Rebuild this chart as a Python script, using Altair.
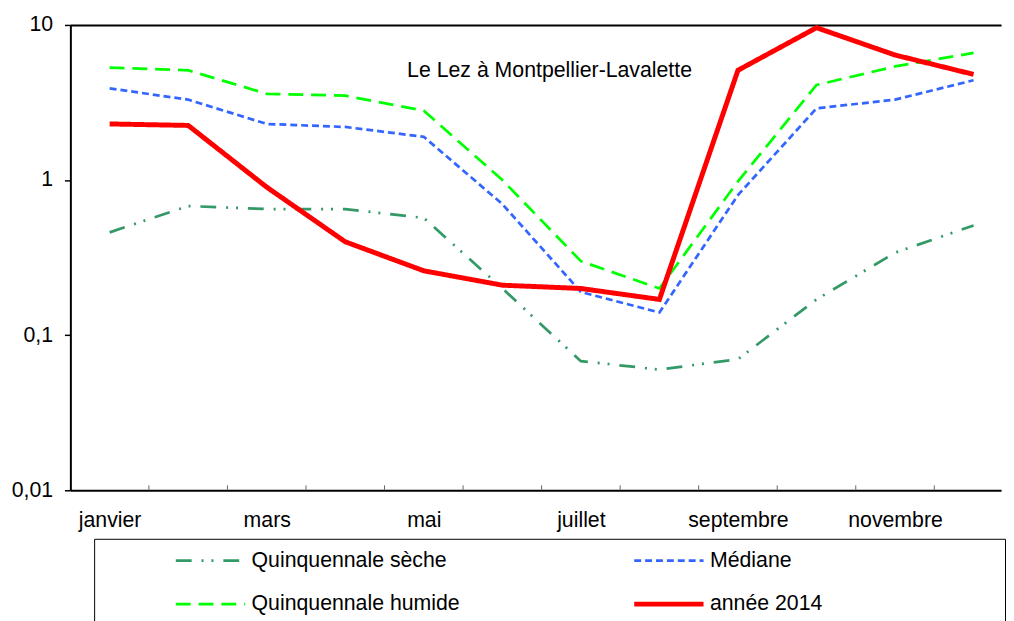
import json
import altair as alt
import pandas as pd

# ---------------- data ----------------
months = ["janvier", "février", "mars", "avril", "mai", "juin",
          "juillet", "août", "septembre", "octobre", "novembre", "décembre"]
labelled_months = ["janvier", "mars", "mai", "juillet", "septembre", "novembre"]
series_names = ["Quinquennale sèche", "Médiane", "Quinquennale humide", "année 2014"]

seche = [0.46, 0.68, 0.65, 0.65, 0.57, 0.20, 0.068, 0.06, 0.07, 0.17, 0.34, 0.51]
mediane = [3.9, 3.3, 2.3, 2.2, 1.9, 0.70, 0.19, 0.14, 0.80, 2.9, 3.3, 4.4]
humide = [5.3, 5.1, 3.6, 3.5, 2.8, 1.0, 0.30, 0.20, 0.98, 4.1, 5.4, 6.6]
annee_2014 = [2.3, 2.25, 0.90, 0.40, 0.26, 0.21, 0.20, 0.17, 5.1, 9.6, 6.4, 4.8]

y_ticks = [0.01, 0.1, 1, 10]
title_text = "Le Lez à Montpellier-Lavalette"

# ---------------- tables ----------------
rows = []
for name, vals in zip(series_names, [seche, mediane, humide, annee_2014]):
    for i, (m, v) in enumerate(zip(months, vals)):
        rows.append({"series": name, "mois": m, "i": i, "v": v})
df = pd.DataFrame(rows)
bounds_df = pd.DataFrame({"b": [i + 0.5 for i in range(len(months) - 1)]})

# ---------------- styles ----------------
FONT = "Liberation Sans"
FS = 21.5
PLOT_W = 940
PLOT_H = 470
colors = ["#339966", "#3366FF", "#00FF00", "#FF0000"]
dashes = [[16, 10, 2, 8, 2, 10], [7, 4], [15, 8], [1, 0]]
widths = [2.75, 2.75, 2.75, 5]

label_values = [months.index(m) for m in labelled_months]
x_label_expr = json.dumps(months) + "[datum.value]"

x_axis = alt.Axis(values=label_values, labelExpr=x_label_expr, ticks=False, grid=False,
                  domainColor="black", domainWidth=2, labelFont=FONT, labelFontSize=FS,
                  labelColor="black", labelPadding=20, title=None)
# top frame line of the plot (no right border is visible in the reference)
x_axis_top = alt.Axis(orient="top", labels=False, ticks=False, grid=False, domain=True,
                      domainColor="black", domainWidth=2, title=None)
x_scale = alt.Scale(domain=[-0.5, 11.35], nice=False, zero=False)

y_axis = alt.Axis(values=y_ticks, format=".2~f", labelExpr="replace(datum.label, '.', ',')",
                  tickSize=6, tickColor="black", tickWidth=1.5, labelPadding=12, grid=False,
                  domainColor="black", domainWidth=2, labelFont=FONT, labelFontSize=FS,
                  labelColor="black", title=None)
y_scale = alt.Scale(type="log", domain=[0.01, 10], nice=False)

# trailing spaces widen the legend box to the right (closed by a zero-width space so they are kept)
pad = "\u00a0" * 29 + "\u200b"
legend = alt.Legend(orient="none", legendX=24, legendY=519, columns=2, direction="horizontal",
                    gridAlign="all", clipHeight=22,
                    title="\u00a0", titleOrient="left", titleFontSize=1, titlePadding=69,
                    padding=11, strokeColor="black", symbolType="stroke", symbolSize=4900,
                    labelFont=FONT, labelFontSize=FS, labelColor="black", labelOffset=4,
                    labelLimit=800, rowPadding=22, columnPadding=0,
                    labelExpr="datum.label + '" + pad + "'")

ticks = alt.Chart(bounds_df).mark_rule(color="#666666", strokeWidth=1).encode(
    x=alt.X("b:Q", scale=x_scale, axis=x_axis_top),
    y=alt.value(PLOT_H - 5),
    y2=alt.value(PLOT_H),
)

lines = alt.Chart(df).mark_line(strokeJoin="miter").encode(
    x=alt.X("i:Q", scale=x_scale, axis=x_axis),
    y=alt.Y("v:Q", scale=y_scale, axis=y_axis),
    color=alt.Color("series:N", scale=alt.Scale(domain=series_names, range=colors), legend=legend),
    strokeDash=alt.StrokeDash("series:N", scale=alt.Scale(domain=series_names, range=dashes), legend=legend),
    strokeWidth=alt.StrokeWidth("series:N", scale=alt.Scale(domain=series_names, range=widths, type="ordinal"), legend=legend),
)

chart = alt.layer(ticks, lines).resolve_axis(x="independent").properties(
    width=PLOT_W, height=PLOT_H,
    padding={"left": 3, "top": 3, "right": 0, "bottom": 0},
    title=alt.TitleParams(text=title_text, offset=-68, font=FONT, fontSize=FS, fontWeight="normal",
                          color="black", anchor="middle", frame="group", dx=14),
).configure_view(stroke=None)

chart.save("out.html", embed_options={"renderer": "svg", "actions": False})
